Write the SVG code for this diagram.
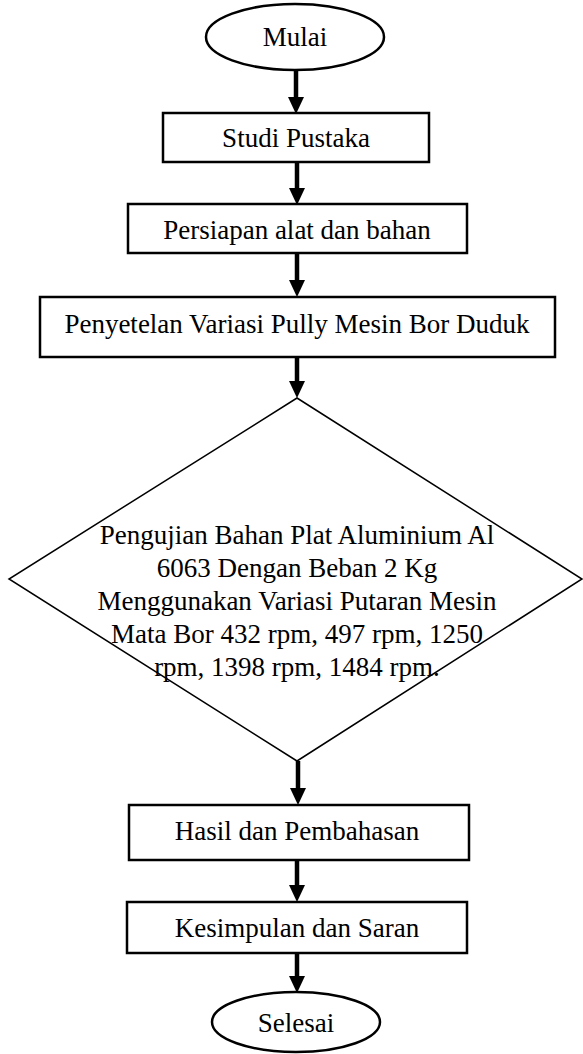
<svg xmlns="http://www.w3.org/2000/svg" width="583" height="1054" viewBox="0 0 583 1054">
<style>
  .box { fill: #fff; stroke: #000; stroke-width: 2.5; }
  .dia { fill: #fff; stroke: #000; stroke-width: 1.5; }
  .t { font-family: "Liberation Serif", "Times New Roman", serif; font-size: 27px; fill: #000; text-anchor: middle; }
  .con { stroke: #000; stroke-width: 4.5; fill: none; }
  .head { fill: #000; }
</style>
<rect width="583" height="1054" fill="#fff"/>
<g id="connectors">
  <line class="con" x1="296" y1="71" x2="296" y2="98"/>
  <polygon class="head" points="288,97 304,97 296,114"/>
  <line class="con" x1="297" y1="162" x2="297" y2="189"/>
  <polygon class="head" points="289,188 305,188 297,205"/>
  <line class="con" x1="297" y1="253" x2="297" y2="281"/>
  <polygon class="head" points="289,280 305,280 297,297"/>
  <line class="con" x1="297" y1="357" x2="297" y2="382"/>
  <polygon class="head" points="289,381 305,381 297,398"/>
  <line class="con" x1="298" y1="761" x2="298" y2="789"/>
  <polygon class="head" points="290,788 306,788 298,805"/>
  <line class="con" x1="297" y1="860" x2="297" y2="886"/>
  <polygon class="head" points="289,885 305,885 297,902"/>
  <line class="con" x1="297" y1="953" x2="297" y2="977"/>
  <polygon class="head" points="289,976 305,976 297,993"/>
</g>
<g id="mulai">
  <ellipse class="box" cx="295" cy="37" rx="89" ry="33"/>
  <text class="t" x="295" y="46">Mulai</text>
</g>
<g id="studi">
  <rect class="box" x="163" y="113" width="266" height="49"/>
  <text class="t" x="296" y="147">Studi Pustaka</text>
</g>
<g id="persiapan">
  <rect class="box" x="128" y="204" width="339" height="49"/>
  <text class="t" x="297" y="239">Persiapan alat dan bahan</text>
</g>
<g id="penyetelan">
  <rect class="box" x="40" y="297" width="515" height="60"/>
  <text class="t" x="297" y="333">Penyetelan Variasi Pully Mesin Bor Duduk</text>
</g>
<g id="pengujian">
  <polygon class="dia" points="297,398 582,579 297,761 9,579"/>
  <text class="t" x="297" y="544">Pengujian Bahan Plat Aluminium Al</text>
  <text class="t" x="297" y="577">6063 Dengan Beban 2 Kg</text>
  <text class="t" x="297" y="610">Menggunakan Variasi Putaran Mesin</text>
  <text class="t" x="297" y="643">Mata Bor 432 rpm, 497 rpm, 1250</text>
  <text class="t" x="297" y="676">rpm, 1398 rpm, 1484 rpm.</text>
</g>
<g id="hasil">
  <rect class="box" x="129" y="805" width="340" height="55"/>
  <text class="t" x="297" y="840">Hasil dan Pembahasan</text>
</g>
<g id="kesimpulan">
  <rect class="box" x="127" y="902" width="340" height="51"/>
  <text class="t" x="297" y="937">Kesimpulan dan Saran</text>
</g>
<g id="selesai">
  <ellipse class="box" cx="296" cy="1022" rx="84" ry="30"/>
  <text class="t" x="296" y="1032">Selesai</text>
</g>
</svg>
